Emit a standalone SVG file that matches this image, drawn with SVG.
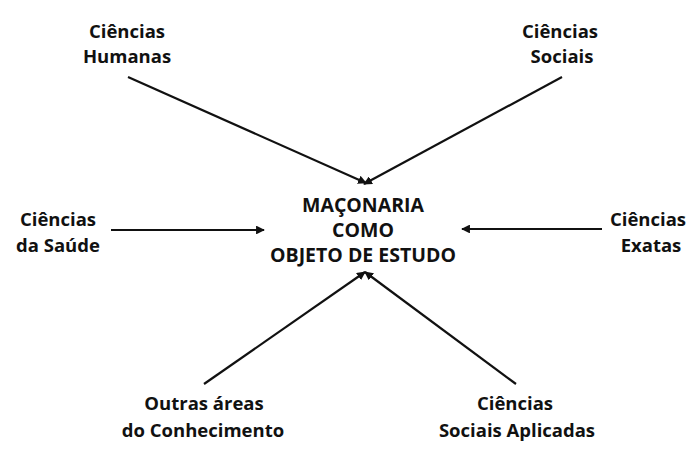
<svg xmlns="http://www.w3.org/2000/svg" width="700" height="458" viewBox="0 0 700 458">
<style>
text{font-family:"Open Sans","Liberation Sans",sans-serif;font-weight:bold;font-size:18.5px;fill:#111;text-anchor:middle}
#center text{font-size:19.5px}
.c line{stroke:#111;stroke-width:2.2;marker-end:url(#ah)}
</style>
<defs>
<marker id="ah" viewBox="0 0 10 10" refX="9" refY="5" markerWidth="4" markerHeight="4" orient="auto" markerUnits="strokeWidth">
<path d="M0,0L10,5L0,10z" fill="#111"/>
</marker>
</defs>
<rect width="700" height="458" fill="#fff"/>
<g class="c" id="connectors">
<line x1="128" y1="77" x2="366" y2="183"/>
<line x1="562" y1="77" x2="364" y2="184"/>
<line x1="111" y1="230" x2="264" y2="230"/>
<line x1="602" y1="229" x2="462" y2="229"/>
<line x1="204" y1="384" x2="365" y2="272"/>
<line x1="516" y1="384" x2="365" y2="272"/>
</g>
<g id="center"><text x="363" y="212">MAÇONARIA</text><text x="363" y="237">COMO</text><text x="363" y="262">OBJETO DE ESTUDO</text></g>
<g id="humanas"><text x="127" y="38">Ciências</text><text x="127" y="63">Humanas</text></g>
<g id="sociais"><text x="560" y="38">Ciências</text><text x="562" y="63">Sociais</text></g>
<g id="saude"><text x="58" y="226">Ciências</text><text x="58" y="252">da Saúde</text></g>
<g id="exatas"><text x="648" y="226">Ciências</text><text x="651" y="252">Exatas</text></g>
<g id="outras"><text x="204" y="410">Outras áreas</text><text x="203" y="437">do Conhecimento</text></g>
<g id="aplicadas"><text x="515" y="410">Ciências</text><text x="517" y="437">Sociais Aplicadas</text></g>
</svg>
